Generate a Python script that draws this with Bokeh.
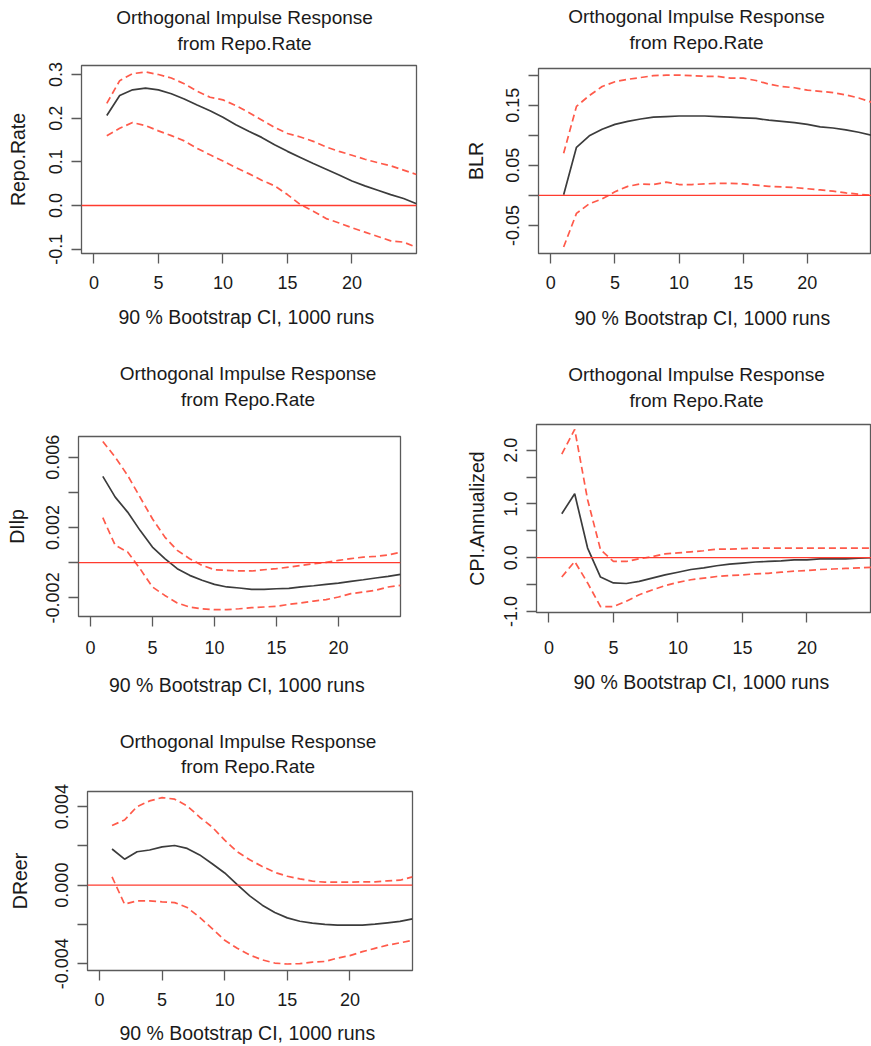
import math
from bokeh.plotting import figure
from bokeh.models import Span, Title, FixedTicker, Range1d, ColumnDataSource
from bokeh.layouts import column, row
from bokeh.embed import file_html
from bokeh.resources import INLINE

# ---------------- data ----------------
steps = list(range(1, 26))

title_line1 = "Orthogonal Impulse Response"
title_line2 = "from Repo.Rate"
x_label = "90 % Bootstrap CI,  1000 runs"

x_ticks = [0, 5, 10, 15, 20]
x_tick_labels = ["0", "5", "10", "15", "20"]

# Repo.Rate
repo_irf = [0.206, 0.252, 0.265, 0.269, 0.265, 0.256, 0.244, 0.230, 0.217, 0.202,
            0.185, 0.170, 0.156, 0.139, 0.124, 0.110, 0.096, 0.083, 0.070, 0.056,
            0.045, 0.035, 0.025, 0.016, 0.004]
repo_upper = [0.234, 0.286, 0.302, 0.306, 0.300, 0.292, 0.279, 0.262, 0.248, 0.242,
              0.229, 0.213, 0.196, 0.179, 0.165, 0.157, 0.147, 0.134, 0.124, 0.115,
              0.106, 0.098, 0.091, 0.081, 0.071]
repo_lower = [0.160, 0.177, 0.190, 0.183, 0.171, 0.160, 0.148, 0.131, 0.116, 0.102,
              0.087, 0.073, 0.058, 0.045, 0.025, 0.002, -0.013, -0.030, -0.040, -0.051,
              -0.061, -0.071, -0.081, -0.084, -0.096]
repo_yticks = [-0.1, 0.0, 0.1, 0.2, 0.3]
repo_ytick_labels = ["-0.1", "0.0", "0.1", "0.2", "0.3"]

# BLR
blr_irf = [0.001, 0.080, 0.099, 0.110, 0.118, 0.123, 0.127, 0.130, 0.131, 0.132,
           0.132, 0.132, 0.131, 0.130, 0.129, 0.128, 0.125, 0.123, 0.121, 0.118,
           0.114, 0.112, 0.109, 0.105, 0.100]
blr_upper = [0.070, 0.148, 0.166, 0.181, 0.189, 0.193, 0.196, 0.199, 0.200, 0.200,
             0.199, 0.198, 0.198, 0.195, 0.195, 0.191, 0.185, 0.181, 0.179, 0.175,
             0.173, 0.171, 0.167, 0.162, 0.155]
blr_lower = [-0.086, -0.030, -0.014, -0.006, 0.006, 0.015, 0.019, 0.018, 0.022, 0.018,
             0.018, 0.019, 0.020, 0.020, 0.019, 0.017, 0.015, 0.014, 0.013, 0.011,
             0.009, 0.007, 0.004, 0.002, 0.000]
blr_yticks = [-0.05, 0.0, 0.05, 0.10, 0.15, 0.20]
blr_ytick_labels = ["-0.05", "", "0.05", "", "0.15", ""]

# DIlp
dilp_irf = [0.00491, 0.00373, 0.00288, 0.00184, 0.00089, 0.00023, -0.00034, -0.00072,
            -0.00100, -0.00123, -0.00138, -0.00144, -0.00152, -0.00152, -0.00148,
            -0.00146, -0.00138, -0.00131, -0.00123, -0.00116, -0.00106, -0.00097,
            -0.00087, -0.00078, -0.00066]
dilp_upper = [0.00690, 0.00600, 0.00497, 0.00373, 0.00250, 0.00146, 0.00070, 0.00023,
              -0.00015, -0.00040, -0.00044, -0.00047, -0.00047, -0.00040, -0.00034,
              -0.00025, -0.00015, -0.00006, 0.00002, 0.00013, 0.00023, 0.00032,
              0.00036, 0.00044, 0.00059]
dilp_lower = [0.00256, 0.00099, 0.00061, -0.00034, -0.00138, -0.00186, -0.00229,
              -0.00252, -0.00262, -0.00267, -0.00267, -0.00262, -0.00256, -0.00252,
              -0.00248, -0.00237, -0.00229, -0.00218, -0.00210, -0.00195, -0.00176,
              -0.00167, -0.00157, -0.00138, -0.00129]
dilp_yticks = [-0.002, 0.0, 0.002, 0.004, 0.006]
dilp_ytick_labels = ["-0.002", "", "0.002", "", "0.006"]

# CPI.Annualized
cpi_irf = [0.82, 1.19, 0.18, -0.36, -0.47, -0.48, -0.44, -0.38, -0.32, -0.27,
           -0.22, -0.19, -0.15, -0.12, -0.10, -0.08, -0.07, -0.06, -0.04, -0.04,
           -0.02, -0.02, -0.02, -0.01, 0.00]
cpi_upper = [1.93, 2.39, 1.08, 0.15, -0.07, -0.07, -0.02, 0.02, 0.07, 0.09,
             0.11, 0.13, 0.16, 0.16, 0.17, 0.18, 0.18, 0.18, 0.18, 0.18,
             0.18, 0.18, 0.18, 0.18, 0.18]
cpi_lower = [-0.36, -0.07, -0.47, -0.91, -0.91, -0.81, -0.69, -0.60, -0.52, -0.46,
             -0.41, -0.38, -0.35, -0.33, -0.32, -0.30, -0.29, -0.27, -0.25, -0.24,
             -0.22, -0.21, -0.20, -0.19, -0.18]
cpi_yticks = [-1.0, -0.5, 0.0, 0.5, 1.0, 1.5, 2.0]
cpi_ytick_labels = ["-1.0", "", "0.0", "", "1.0", "", "2.0"]

# DReer
dreer_irf = [0.00184, 0.00132, 0.00170, 0.00179, 0.00195, 0.00202, 0.00187, 0.00154,
             0.00109, 0.00062, 0.00003, -0.00055, -0.00102, -0.00139, -0.00167,
             -0.00184, -0.00194, -0.00200, -0.00204, -0.00204, -0.00204, -0.00199,
             -0.00192, -0.00185, -0.00172]
dreer_upper = [0.00304, 0.00332, 0.00400, 0.00429, 0.00446, 0.00438, 0.00404, 0.00346,
               0.00296, 0.00229, 0.00170, 0.00129, 0.00095, 0.00065, 0.00045,
               0.00032, 0.00020, 0.00015, 0.00015, 0.00015, 0.00017, 0.00017,
               0.00022, 0.00025, 0.00042]
dreer_lower = [0.00042, -0.00097, -0.00080, -0.00080, -0.00085, -0.00089, -0.00114,
               -0.00164, -0.00222, -0.00281, -0.00322, -0.00356, -0.00381, -0.00397,
               -0.00402, -0.00400, -0.00392, -0.00389, -0.00372, -0.00359, -0.00339,
               -0.00322, -0.00306, -0.00294, -0.00281]
dreer_yticks = [-0.004, -0.002, 0.0, 0.002, 0.004]
dreer_ytick_labels = ["-0.004", "", "0.000", "", "0.004"]

# ---------------- styles ----------------
FONT = "Liberation Sans"
TXT = "#1a1a1a"
BOX = "#5a5a5a"
RED_ZERO = "#ff3b2e"
RED_DASH = "#ff5a4a"
IRF_COL = "#3c3c3c"
TITLE_PX = 19
# advance widths of the two title lines (em units, Arial-compatible metrics)
W1_EM = 13.506
W2_EM = 7.058


def make_panel(name, irf, upper, lower, yticks, ylabels, yr, xr,
               width, height, bl, fw, bt, fh, gap2, title_cx,
               xt_gap, xl_gap, yl_standoff):
    p = figure(width=width, height=height,
               x_range=Range1d(*xr), y_range=Range1d(*yr),
               output_backend="svg", toolbar_location=None,
               min_border_left=bl, min_border_right=width - bl - fw,
               min_border_top=bt, min_border_bottom=height - bt - fh,
               title=None)
    if "frame_align" in p.properties():
        p.frame_align = False
    p.grid.visible = False
    p.outline_line_color = BOX
    p.outline_line_width = 1.3
    p.background_fill_color = "white"
    p.border_fill_color = "white"

    src = ColumnDataSource(dict(x=steps, irf=irf, upper=upper, lower=lower))
    p.line("x", "upper", source=src, line_color=RED_DASH, line_width=1.7,
           line_dash="7 4")
    p.line("x", "lower", source=src, line_color=RED_DASH, line_width=1.7,
           line_dash="7 4")
    p.line("x", "irf", source=src, line_color=IRF_COL, line_width=1.7)
    p.add_layout(Span(location=0, dimension="width", line_color=RED_ZERO,
                      line_width=1.3))

    for ax in p.axis:
        ax.axis_line_color = None
        ax.major_tick_line_color = BOX
        ax.major_tick_line_width = 1.3
        ax.major_tick_out = 10
        ax.major_tick_in = 0
        ax.minor_tick_line_color = None
        ax.major_label_text_font = FONT
        ax.major_label_text_font_size = "18px"
        ax.major_label_text_color = TXT
        ax.axis_label_text_font = FONT
        ax.axis_label_text_font_size = "19.5px"
        ax.axis_label_text_font_style = "normal"
        ax.axis_label_text_color = TXT

    ts = xt_gap - 19
    p.xaxis.ticker = FixedTicker(ticks=x_ticks)
    p.xaxis.major_label_overrides = dict(zip(x_ticks, x_tick_labels))
    p.xaxis.major_label_standoff = round(ts)
    p.xaxis.axis_label = x_label
    p.xaxis.axis_label_standoff = round(xl_gap - 36 - ts)

    p.yaxis.ticker = FixedTicker(ticks=yticks)
    p.yaxis.major_label_overrides = dict(zip(yticks, ylabels))
    p.yaxis.major_label_orientation = "vertical"
    p.yaxis.major_label_standoff = 9
    p.yaxis.axis_label = name
    p.yaxis.axis_label_standoff = yl_standoff

    # two-line title: stacked Title annotations, left-aligned with offsets so
    # that each line is centred on title_cx (pixels from the box's left edge)
    s2 = 2 * (gap2 - 3)
    s1 = 5 - s2
    off1 = title_cx - W1_EM * TITLE_PX / 2
    off2 = title_cx - W2_EM * TITLE_PX / 2
    t2 = Title(text=title_line2, align="left", offset=off2,
               text_font=FONT, text_font_size=f"{TITLE_PX}px",
               text_font_style="normal", text_color=TXT, standoff=s2)
    t1 = Title(text=title_line1, align="left", offset=off1,
               text_font=FONT, text_font_size=f"{TITLE_PX}px",
               text_font_style="normal", text_color=TXT, standoff=s1)
    p.add_layout(t2, "above")
    p.add_layout(t1, "above")
    return p


XR = (-0.96, 25.0)

p1 = make_panel("Repo.Rate", repo_irf, repo_upper, repo_lower, repo_yticks,
                repo_ytick_labels, (-0.110, 0.3207), XR,
                458, 345, 81, 335, 65, 188, 15, 163, 30.5, 62, 18)
p2 = make_panel("BLR", blr_irf, blr_upper, blr_lower, blr_yticks,
                blr_ytick_labels, (-0.0967, 0.211), XR,
                413, 345, 80, 333, 68, 185, 18.3, 158, 30.7, 63, 17)
p3 = make_panel("DIlp", dilp_irf, dilp_upper, dilp_lower, dilp_yticks,
                dilp_ytick_labels, (-0.00306, 0.00718), XR,
                458, 367, 78, 322, 91, 180, 29.3, 169.5, 33, 67, 16)
p4 = make_panel("CPI.Annualized", cpi_irf, cpi_upper, cpi_lower, cpi_yticks,
                cpi_ytick_labels, (-1.02, 2.48), XR,
                413, 367, 78, 335, 79, 188, 17, 160, 36.7, 68, 14)
p5 = make_panel("DReer", dreer_irf, dreer_upper, dreer_lower, dreer_yticks,
                dreer_ytick_labels, (-0.00435, 0.00477), XR,
                458, 334, 87, 325, 79, 182, 17.7, 160.5, 31, 61, 22)

layout = column(row(p1, p2), row(p3, p4), row(p5))

open("out.html", "w").write(file_html(layout, INLINE))
